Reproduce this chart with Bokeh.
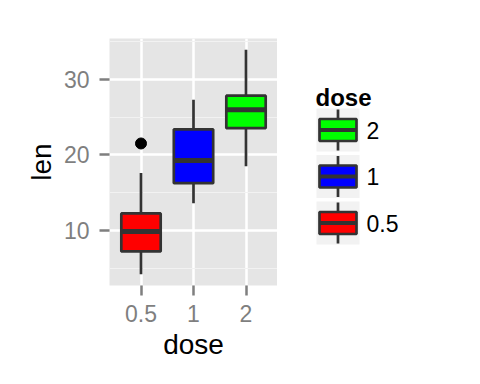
from bokeh.plotting import figure
from bokeh.layouts import row
from bokeh.models import ColumnDataSource, FactorRange, Range1d, FixedTicker
from bokeh.transform import dodge
from bokeh.embed import file_html
from bokeh.resources import INLINE
from bokeh.core.properties import value

# ---- data (ToothGrowth len by dose) ----
doses = ["0.5", "1", "2"]
lower_whisker = [4.2, 13.6, 18.5]
q1 = [7.225, 16.25, 23.525]
median = [9.85, 19.25, 25.95]
q3 = [12.25, 23.375, 27.825]
upper_whisker = [17.6, 27.3, 33.9]
colors = ["#FF0000", "#0000FF", "#00FF00"]
outlier_dose = ["0.5"]
outlier_len = [21.5]
y_ticks = [10, 20, 30]
y_minor = [5, 15, 25, 35]

FONT = "Liberation Sans"
EDGE = "#333333"
AXIS_GREY = "#7F7F7F"

# layout constants (pixels)
FL, FT, FW, FH, FB = 109, 38, 168, 247, 91
MAIN_W = FL + FW
LEG_W = 183

src = ColumnDataSource(dict(dose=doses, lw=lower_whisker, q1=q1, med=median,
                            q3=q3, uw=upper_whisker, color=colors))

p = figure(x_range=FactorRange(*doses, range_padding=0.1, range_padding_units="absolute"),
           y_range=Range1d(2.715, 35.385),
           frame_width=FW, frame_height=FH,
           min_border_left=FL, min_border_right=0, min_border_top=FT, min_border_bottom=FB,
           output_backend="svg", toolbar_location=None)
p.background_fill_color = "#E5E5E5"
p.border_fill_color = "white"
p.outline_line_color = None

# grid
p.ygrid.ticker = FixedTicker(ticks=y_ticks, minor_ticks=y_minor)
for g in (p.xgrid, p.ygrid):
    g.grid_line_color = "white"
    g.grid_line_width = 2.5
p.ygrid.minor_grid_line_color = "#F2F2F2"
p.ygrid.minor_grid_line_width = 1.2

# whiskers
p.segment(x0="dose", y0="lw", x1="dose", y1="q1", source=src, line_color=EDGE, line_width=2.7)
p.segment(x0="dose", y0="q3", x1="dose", y1="uw", source=src, line_color=EDGE, line_width=2.7)
# boxes
p.vbar(x="dose", bottom="q1", top="q3", width=0.75, source=src,
       fill_color="color", line_color=EDGE, line_width=2.7)
# medians
p.segment(x0=dodge("dose", -0.375, range=p.x_range), y0="med",
          x1=dodge("dose", 0.375, range=p.x_range), y1="med",
          source=src, line_color=EDGE, line_width=5)
# outliers
p.scatter(x=outlier_dose, y=outlier_len, size=11, color="black")

# axes
p.yaxis.ticker = FixedTicker(ticks=y_ticks, minor_ticks=[])
for ax in (p.xaxis[0], p.yaxis[0]):
    ax.axis_line_color = None
    ax.major_tick_line_color = AXIS_GREY
    ax.major_tick_line_width = 2.5
    ax.major_tick_in = 0
    ax.major_tick_out = 10
    ax.minor_tick_line_color = None
    ax.major_label_text_font = FONT
    ax.major_label_text_font_size = "23px"
    ax.major_label_text_color = AXIS_GREY
    ax.major_label_standoff = 9
    ax.axis_label_text_font = FONT
    ax.axis_label_text_font_size = "28px"
    ax.axis_label_text_font_style = "normal"
    ax.axis_label_text_color = "black"
    ax.axis_label_standoff = 4
p.xaxis.axis_label = "dose"
p.yaxis.axis_label = "len"
p.yaxis.major_label_standoff = 10

# ---- legend panel (data coords == page pixels) ----
lg = figure(frame_width=LEG_W, frame_height=FH,
            min_border_left=0, min_border_right=0, min_border_top=FT, min_border_bottom=FB,
            x_range=Range1d(MAIN_W, MAIN_W + LEG_W), y_range=Range1d(FT + FH, FT),
            output_backend="svg", toolbar_location=None)
lg.axis.visible = False
lg.grid.visible = False
lg.outline_line_color = None
lg.background_fill_color = "white"
lg.border_fill_color = "white"

lg.text(x=[315], y=[97], text=["dose"], text_font=value(FONT),
        text_font_size="24px", text_font_style="bold", text_color="black",
        text_baseline="alphabetic", text_align="left")

order = [2, 1, 0]
key_left, key_w, key_h, pitch, top0 = 316, 43, 43, 46.5, 108
kt = [top0 + i * pitch for i in range(3)]
kc = [t + key_h / 2 for t in kt]
kcol = [colors[j] for j in order]
klab = [doses[j] for j in order]
cx = key_left + key_w / 2
lg.quad(left=[key_left] * 3, right=[key_left + key_w] * 3, top=kt, bottom=[t + key_h for t in kt],
        fill_color="#F2F2F2", line_color=None)
lg.segment(x0=[cx] * 3, x1=[cx] * 3, y0=[t + 1 for t in kt], y1=[t + key_h - 1 for t in kt],
           line_color=EDGE, line_width=2.7)
lg.quad(left=[key_left + 3] * 3, right=[key_left + key_w - 3] * 3,
        top=[c - 11 for c in kc], bottom=[c + 11 for c in kc],
        fill_color=kcol, line_color=EDGE, line_width=2.7)
lg.segment(x0=[key_left + 3] * 3, x1=[key_left + key_w - 3] * 3, y0=kc, y1=kc,
           line_color=EDGE, line_width=4)
lg.text(x=[366] * 3, y=kc, text=klab, text_font=value(FONT), text_font_size="23px",
        text_color="black", text_baseline="middle", text_align="left")

layout = row(p, lg, spacing=0)
open("out.html", "w").write(file_html(layout, INLINE))
